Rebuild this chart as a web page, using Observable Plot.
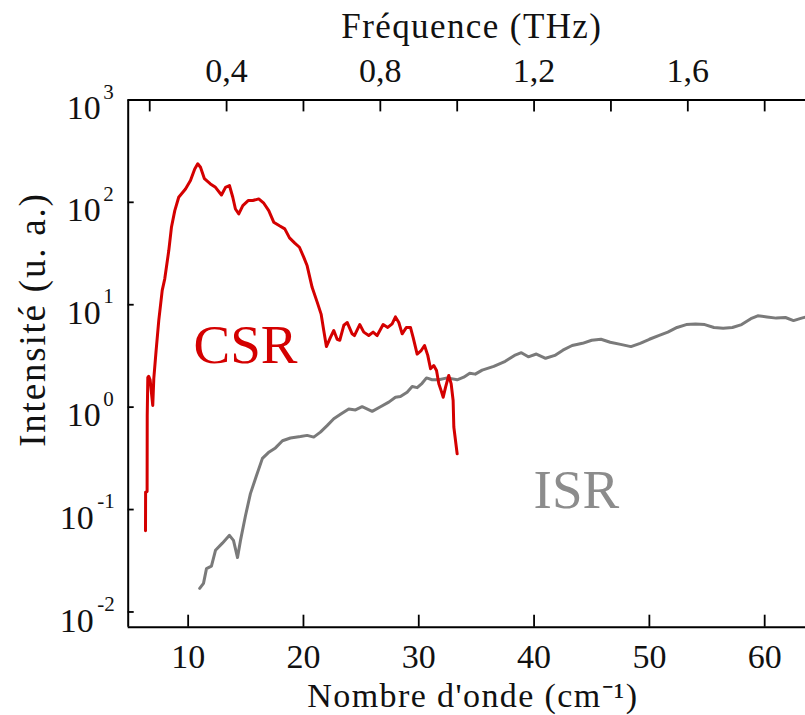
<!DOCTYPE html>
<html>
<head>
<meta charset="utf-8">
<script src="https://cdn.jsdelivr.net/npm/d3@7"></script>
<script src="https://cdn.jsdelivr.net/npm/@observablehq/plot@0.6"></script>
<style>
  html, body { margin: 0; padding: 0; background: #fff; }
  #chart svg { display: block; }
</style>
</head>
<body>
<div id="chart"></div>
<script>
// ---- Data ----
const csrWave = [6.30, 6.31, 6.44, 6.45, 6.50, 6.58, 6.70, 6.93, 7.02, 7.22, 7.45, 7.75, 7.97, 8.32, 8.55, 8.84, 9.18, 9.77, 10.2, 10.57, 10.83, 11.07, 11.41, 11.93, 12.37, 12.89, 13.24, 13.58, 13.87, 14.1, 14.39, 14.74, 15.2, 15.6, 16.12, 16.56, 16.99, 17.42, 17.92, 18.38, 18.79, 19.25, 19.65, 20.03, 20.32, 20.75, 21.19, 21.53, 21.76, 21.99, 22.34, 22.63, 22.92, 23.15, 23.5, 23.8, 24.22, 24.42, 24.88, 25.23, 25.66, 26.04, 26.39, 26.91, 27.31, 27.69, 27.98, 28.27, 28.56, 28.93, 29.28, 29.51, 29.86, 30.21, 30.5, 30.78, 31.02, 31.3, 31.54, 31.74, 31.94, 32.12, 32.32, 32.6, 32.81, 32.98, 33.04, 33.33];
const csrInt  = [0.062, 0.148, 0.150, 0.83, 1.95, 2.0, 1.85, 1.04, 1.9, 3.57, 7.0, 13.8, 17.9, 33.8, 57, 83, 112, 135, 163, 212, 238, 220, 170, 151, 140, 118, 140, 146, 112, 86, 77, 93, 104, 104, 108, 98, 83, 64, 59, 55, 45, 40, 36.4, 29, 24, 14.8, 10.6, 8.1, 5.6, 3.9, 4.8, 5.6, 4.6, 4.5, 6.3, 6.7, 5.2, 5.0, 6.4, 5.4, 5.0, 5.4, 5.0, 6.4, 6.0, 6.5, 7.6, 6.7, 5.2, 6.0, 6.0, 4.8, 3.3, 3.57, 4.0, 3.2, 2.37, 2.55, 2.28, 1.69, 1.45, 1.25, 1.56, 2.04, 1.69, 1.16, 0.64, 0.35];

const isrWave = [11.0, 11.33, 11.59, 12.02, 12.37, 12.97, 13.58, 13.93, 14.28, 14.54, 14.97, 15.4, 15.92, 16.44, 16.96, 17.57, 18.18, 18.87, 19.74, 20.32, 20.89, 21.47, 22.05, 22.63, 23.21, 23.93, 24.51, 25.09, 25.96, 26.68, 27.4, 27.98, 28.41, 28.99, 29.43, 29.86, 30.29, 30.67, 31.16, 31.74, 32.46, 33.33, 33.9, 34.42, 34.9, 35.5, 36.5, 37.5, 38.3, 38.9, 39.5, 40.2, 41.0, 41.8, 42.5, 43.3, 44.2, 45.0, 45.8, 46.6, 47.5, 48.4, 49.2, 50.0, 50.8, 51.6, 52.4, 53.2, 54.0, 54.8, 55.6, 56.4, 57.2, 58.0, 58.8, 59.4, 60.2, 61.0, 61.8, 62.5, 63.2, 63.6];
const isrInt  = [0.017, 0.019, 0.0265, 0.028, 0.040, 0.047, 0.056, 0.050, 0.034, 0.050, 0.087, 0.143, 0.214, 0.316, 0.36, 0.40, 0.47, 0.50, 0.516, 0.53, 0.51, 0.57, 0.66, 0.77, 0.85, 0.96, 0.94, 1.01, 0.91, 1.01, 1.12, 1.25, 1.27, 1.40, 1.59, 1.55, 1.71, 1.93, 1.85, 1.85, 1.93, 1.85, 1.96, 2.14, 2.1, 2.3, 2.5, 2.8, 3.2, 3.4, 3.1, 3.3, 3.0, 3.2, 3.6, 4.0, 4.2, 4.5, 4.6, 4.3, 4.1, 3.9, 4.2, 4.6, 5.0, 5.4, 6.0, 6.4, 6.5, 6.4, 6.0, 5.9, 6.0, 6.4, 7.3, 7.8, 7.6, 7.4, 7.5, 7.0, 7.4, 7.6];

const xTicks = [10, 20, 30, 40, 50, 60];
const yTicks = [1e-2, 1e-1, 1, 10, 100, 1000];
const thzLabelTicks = [0.4, 0.8, 1.2, 1.6];
const thzAllTicks = [0.2, 0.4, 0.6, 0.8, 1.0, 1.2, 1.4, 1.6, 1.8];
const THZ_PER_CM = 0.03; // 1 cm^-1 = 0.03 THz

const seriesNames = ["CSR", "ISR"];
const seriesLabelWave = [14.97, 43.67];
const seriesLabelInt = [4.0, 0.153];

const xDomain = [4.8, 63.54];
const yDomain = [0.0071, 1000];

const xTitle = "Nombre d'onde (cm⁻¹)";
const x2Title = "Fréquence (THz)";
const yTitle = "Intensité (u. a.)";

// ---- Tables built from arrays ----
const csr = csrWave.map((w, i) => ({w, v: csrInt[i]}));
const isr = isrWave.map((w, i) => ({w, v: isrInt[i]}));
const seriesLabels = seriesNames.map((n, i) => ({n, w: seriesLabelWave[i], v: seriesLabelInt[i]}));

const RED = "#d40000";
const GRAY = "#7a7a7a";

const W = 805, H = 715;
const mL = 127.7, mR = 0, mT = 99.4, mB = 88.3;
const frameW = W - mL - mR, frameH = H - mT - mB;

const chart = Plot.plot({
  width: W,
  height: H,
  marginLeft: mL,
  marginRight: mR,
  marginTop: mT,
  marginBottom: mB,
  style: "font-family: 'Liberation Serif', serif; background: #fff; color: #111;",
  x: {domain: xDomain},
  y: {type: "log", domain: yDomain, axis: null},
  marks: [
    // data lines
    Plot.line(isr, {x: "w", y: "v", stroke: GRAY, strokeWidth: 3, strokeLinejoin: "round"}),
    Plot.line(csr, {x: "w", y: "v", stroke: RED, strokeWidth: 3, strokeLinejoin: "round"}),

    // series labels
    Plot.text(seriesLabels, {x: "w", y: "v", text: "n", fontSize: 55,
      fill: d => d.n === "CSR" ? RED : "#8c8c8c"}),

    // frame (left, top, bottom)
    Plot.ruleX([xDomain[0]], {stroke: "#000", strokeWidth: 2}),
    Plot.ruleY([yDomain[0], yDomain[1]], {stroke: "#000", strokeWidth: 2}),

    // inward tick marks
    Plot.tickX(xTicks, {x: d => d, insetTop: frameH - 12, stroke: "#000", strokeWidth: 1.8}),
    Plot.tickX(thzAllTicks.map(f => f / THZ_PER_CM), {x: d => d, insetBottom: frameH - 12, stroke: "#000", strokeWidth: 1.8}),
    Plot.tickY(yTicks, {y: d => d, insetRight: frameW - 6, stroke: "#000", strokeWidth: 1.8}),

    // bottom tick labels
    Plot.axisX({anchor: "bottom", ticks: xTicks, tickSize: 0, tickPadding: 17, tickFormat: d => String(d), fontSize: 34, label: null, fill: "#111"}),
    // top tick labels (frequency)
    Plot.axisX({anchor: "top", ticks: thzLabelTicks.map(f => f / THZ_PER_CM), tickSize: 0, tickPadding: 18,
      tickFormat: d => (d * THZ_PER_CM).toFixed(1).replace(".", ","), fontSize: 34, label: null, fill: "#111"}),

    // left tick labels: base "10" + exponent
    Plot.text(yTicks, {filter: d => d >= 1, y: d => d, frameAnchor: "left", lineAnchor: "middle", text: () => "10", textAnchor: "end", dx: -27.5, dy: 8, fontSize: 34, fill: "#111"}),
    Plot.text(yTicks, {filter: d => d < 1, y: d => d, frameAnchor: "left", lineAnchor: "middle", text: () => "10", textAnchor: "end", dx: -34.5, dy: 9, fontSize: 34, fill: "#111"}),
    Plot.text(yTicks, {filter: d => d >= 1, y: d => d, frameAnchor: "left", lineAnchor: "middle", text: d => String(Math.round(Math.log10(d))), textAnchor: "start", dx: -25, dy: -8, fontSize: 21, fill: "#111"}),
    Plot.text(yTicks, {filter: d => d < 1, y: d => d, frameAnchor: "left", lineAnchor: "middle", text: d => String(Math.round(Math.log10(d))), textAnchor: "start", dx: -31, dy: -8, fontSize: 21, fill: "#111"}),

    // axis titles
    Plot.text([xTitle], {frameAnchor: "bottom", lineAnchor: "middle", textAnchor: "middle", text: d => d, dx: 6, dy: 69, fontSize: 34, fill: "#111"}),
    Plot.text([x2Title], {frameAnchor: "top", lineAnchor: "middle", textAnchor: "middle", text: d => d, dx: 5, dy: -73, fontSize: 35, fill: "#111"}),
    Plot.text([yTitle], {frameAnchor: "left", lineAnchor: "middle", textAnchor: "middle", text: d => d, rotate: -90, dx: -95, dy: -44, fontSize: 37, fill: "#111"})
  ]
});

// widen the axis titles a little (the reference font is wider than the available serif)
const spacing = new Map([[xTitle, 1.4], [x2Title, 1.4], [yTitle, 1.8]]);
d3.select(chart).selectAll("text").each(function () {
  const s = spacing.get(this.textContent);
  if (s != null) this.setAttribute("letter-spacing", s);
});

document.getElementById("chart").appendChild(chart);
</script>
</body>
</html>
